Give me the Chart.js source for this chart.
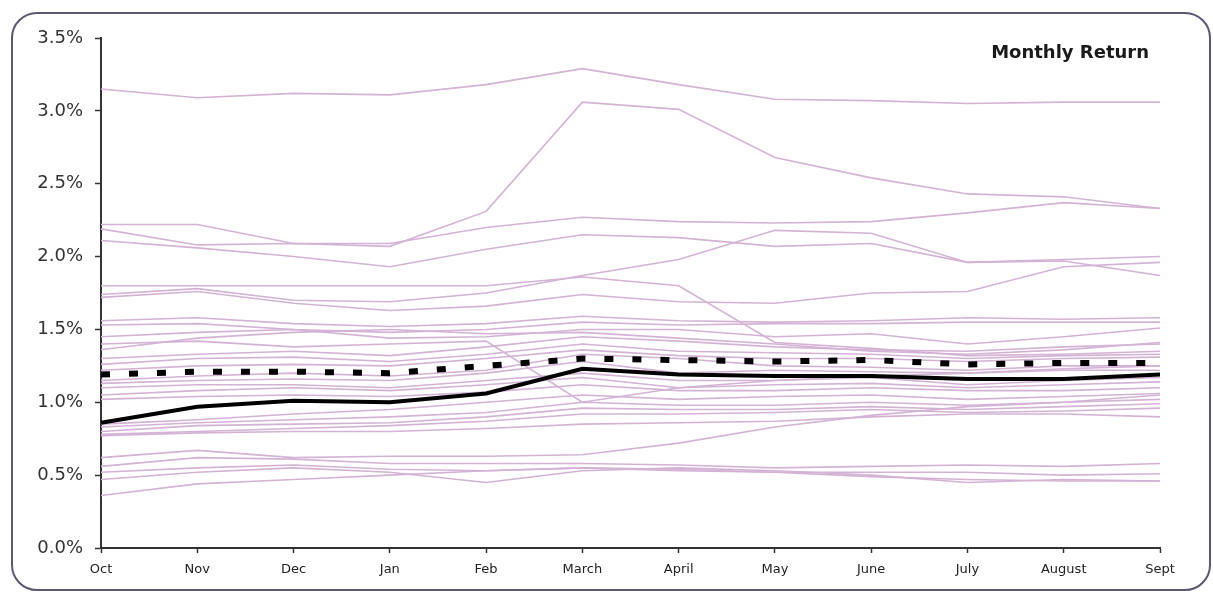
<!DOCTYPE html>
<html>
<head>
<meta charset="utf-8">
<script src="https://cdn.jsdelivr.net/npm/chart.js@4"></script>
<style>
  html, body { margin: 0; padding: 0; background: #fff; }
  #wrap { position: relative; width: 1213px; height: 596px; overflow: hidden; }
  #frame { position: absolute; left: 11px; top: 12px; width: 1196px; height: 575px;
           border: 2px solid #5e5672; border-radius: 26px; }
  #title { position: absolute; left: 940px; top: 41px; width: 209px; text-align: right;
           font: bold 18px "DejaVu Sans", Verdana, sans-serif; color: #1a1a1a; }
  canvas { position: absolute; left: 0; top: 0; }
</style>
</head>
<body>
<div id="wrap">
  <div id="frame"></div>
  <canvas id="c" width="1213" height="596"></canvas>
  <div id="title">Monthly Return</div>
</div>
<script>
// ---- data ----
const months = ["Oct","Nov","Dec","Jan","Feb","March","April","May","June","July","August","Sept"];
const yTicks = [0, 0.5, 1.0, 1.5, 2.0, 2.5, 3.0, 3.5];

const average = [0.86,0.97,1.01,1.00,1.06,1.23,1.19,1.18,1.18,1.16,1.16,1.19];
const median  = [1.19,1.21,1.21,1.20,1.25,1.30,1.29,1.28,1.29,1.26,1.27,1.27];

const fund01 = [3.15,3.09,3.12,3.11,3.18,3.29,3.18,3.08,3.07,3.05,3.06,3.06];
const fund02 = [2.19,2.08,2.09,2.07,2.31,3.06,3.01,2.68,2.54,2.43,2.41,2.33];
const fund03 = [2.22,2.22,2.09,2.09,2.20,2.27,2.24,2.23,2.24,2.30,2.37,2.33];
const fund04 = [2.11,2.06,2.00,1.93,2.05,2.15,2.13,2.07,2.09,1.96,1.98,2.00];
const fund05 = [1.74,1.78,1.70,1.69,1.75,1.87,1.98,2.18,2.16,1.96,1.97,1.87];
const fund06 = [1.80,1.80,1.80,1.80,1.80,1.86,1.80,1.41,1.37,1.32,1.33,1.35];
const fund07 = [1.72,1.76,1.68,1.63,1.66,1.74,1.69,1.68,1.75,1.76,1.93,1.96];
const fund08 = [1.56,1.58,1.54,1.52,1.54,1.59,1.56,1.55,1.56,1.58,1.57,1.58];
const fund09 = [1.53,1.54,1.50,1.48,1.50,1.55,1.53,1.54,1.54,1.55,1.55,1.55];
const fund10 = [1.45,1.48,1.50,1.44,1.45,1.50,1.50,1.45,1.47,1.40,1.45,1.51];
const fund11 = [1.36,1.44,1.48,1.50,1.47,1.48,1.44,1.40,1.35,1.33,1.36,1.41];
const fund12 = [1.30,1.33,1.35,1.32,1.38,1.45,1.42,1.38,1.36,1.35,1.38,1.40];
const fund13 = [1.26,1.30,1.31,1.28,1.33,1.40,1.35,1.34,1.33,1.30,1.32,1.33];
const fund14 = [1.22,1.25,1.26,1.25,1.30,1.36,1.32,1.30,1.30,1.28,1.30,1.31];
const fund15 = [1.15,1.18,1.20,1.18,1.22,1.33,1.30,1.25,1.24,1.22,1.25,1.25];
const fund16 = [1.13,1.15,1.16,1.15,1.20,1.28,1.20,1.22,1.21,1.20,1.22,1.22];
const fund17 = [1.10,1.12,1.12,1.10,1.15,1.20,1.15,1.15,1.17,1.12,1.15,1.17];
const fund18 = [1.05,1.08,1.10,1.08,1.12,1.17,1.10,1.12,1.13,1.10,1.12,1.14];
const fund19 = [1.02,1.04,1.05,1.04,1.07,1.12,1.08,1.08,1.10,1.08,1.08,1.10];
const fund20 = [0.85,0.88,0.92,0.95,1.00,1.05,1.02,1.04,1.05,1.02,1.04,1.06];
const fund21 = [0.83,0.86,0.88,0.90,0.93,1.00,0.98,0.98,1.00,0.98,1.00,1.02];
const fund22 = [0.80,0.84,0.85,0.86,0.90,0.96,0.95,0.95,0.97,0.95,0.97,0.99];
const fund23 = [0.78,0.80,0.82,0.84,0.87,0.92,0.92,0.93,0.95,0.93,0.94,0.96];
const fund24 = [0.77,0.79,0.80,0.80,0.82,0.85,0.86,0.87,0.90,0.92,0.92,0.90];
const fund25 = [0.62,0.67,0.62,0.63,0.63,0.64,0.72,0.83,0.91,0.97,1.00,1.05];
const fund26 = [0.56,0.62,0.61,0.58,0.58,0.58,0.57,0.55,0.56,0.57,0.56,0.58];
const fund27 = [0.52,0.55,0.57,0.54,0.53,0.55,0.53,0.52,0.52,0.52,0.50,0.51];
const fund28 = [0.47,0.52,0.55,0.52,0.45,0.53,0.55,0.53,0.50,0.45,0.47,0.46];
const fund29 = [0.36,0.44,0.47,0.50,0.53,0.55,0.54,0.52,0.49,0.47,0.46,0.46];
const fund30 = [1.40,1.42,1.38,1.40,1.42,1.00,1.10,1.15,1.18,1.20,1.23,1.25];

const peerFunds = [fund01,fund02,fund03,fund04,fund05,fund06,fund07,fund08,fund09,fund10,
                   fund11,fund12,fund13,fund14,fund15,fund16,fund17,fund18,fund19,fund20,
                   fund21,fund22,fund23,fund24,fund25,fund26,fund27,fund28,fund29,fund30];

// ---- chart ----
const PINK = '#d4b2d6';
const datasets = peerFunds.map((d, i) => ({
  label: 'Fund ' + (i + 1), data: d, borderColor: PINK, borderWidth: 1.6,
  pointRadius: 0, tension: 0, fill: false, order: 3
}));
datasets.push({ label: 'Median', data: median, borderColor: '#000', borderWidth: 6,
  borderDash: [9, 19], borderCapStyle: 'butt', pointRadius: 0, tension: 0, fill: false, order: 1 });
datasets.push({ label: 'Average', data: average, borderColor: '#000', borderWidth: 4,
  pointRadius: 0, tension: 0, fill: false, order: 0 });

new Chart(document.getElementById('c'), {
  type: 'line',
  data: { labels: months, datasets },
  options: {
    responsive: false, animation: false, devicePixelRatio: 1,
    layout: { padding: { left: 0, right: 53, top: 38, bottom: 0 } },
    plugins: { legend: { display: false }, tooltip: { enabled: false }, title: { display: false } },
    scales: {
      x: {
        type: 'category', offset: false,
        afterFit: s => { s.height = 48; },
        grid: { display: true, drawOnChartArea: false, drawTicks: true, tickLength: 5, tickColor: '#333', tickWidth: 1.5 },
        border: { display: true, color: '#333', width: 2 },
        ticks: { color: '#222', font: { family: 'DejaVu Sans', size: 13 }, padding: 9, maxRotation: 0, autoSkip: false }
      },
      y: {
        min: 0, max: 3.5,
        afterFit: s => { s.width = 101; },
        afterBuildTicks: s => { s.ticks = yTicks.map(v => ({ value: v })); },
        grid: { display: true, drawOnChartArea: false, drawTicks: true, tickLength: 6, tickColor: '#333', tickWidth: 1.5 },
        border: { display: true, color: '#333', width: 2 },
        ticks: { color: '#333', font: { family: 'DejaVu Sans', size: 18 }, padding: 12,
                 callback: v => Number(v).toFixed(1) + '%' }
      }
    }
  }
});
</script>
</body>
</html>
